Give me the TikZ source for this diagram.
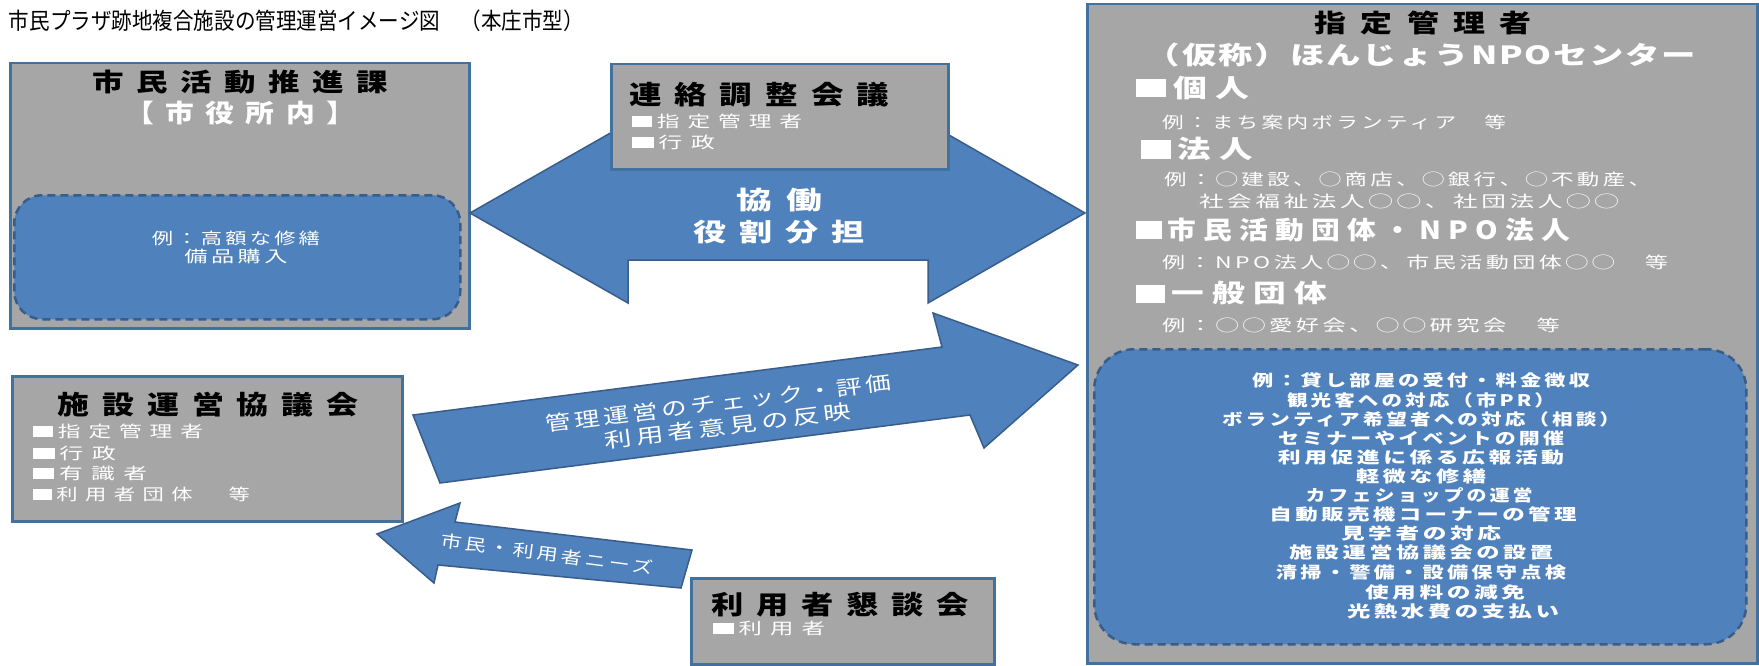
\documentclass[tikz,border=0pt]{standalone}
\usepackage{fontspec}
\usepackage{graphicx}
\definecolor{boxgray}{HTML}{A6A6A6}
\definecolor{boxblue}{HTML}{41719C}
\definecolor{arrowblue}{HTML}{4F81BD}
\definecolor{darkblue}{HTML}{385D8A}
\newcommand\T[4]{\resizebox{#1pt}{\height}{\fontspec{Noto Sans CJK JP}[LetterSpace=#3]\fontsize{#2}{#2}\selectfont#4}}
\newcommand\TB[4]{\resizebox{#1pt}{\height}{\fontspec{Noto Sans CJK JP}[LetterSpace=#3]\fontsize{#2}{#2}\selectfont\bfseries#4}}
\newcommand\sqr{\rule{0.9em}{0.72em}\kern0.2em}
\begin{document}
\begin{tikzpicture}[x=1pt,y=-1pt,
  txt/.style={inner sep=0pt,outer sep=0pt},
  wtxt/.style={txt,text=white},
  graybox/.style={draw=boxblue,line width=2.5pt,fill=boxgray,inner sep=0pt,anchor=north west},
  dashbox/.style={draw=darkblue,line width=2.5pt,dash pattern=on 8pt off 5pt,fill=arrowblue,inner sep=0pt,anchor=north west},
  blockarrow/.style={fill=arrowblue,draw=darkblue,line width=1.5pt,line join=miter}]
\useasboundingbox (0,0) rectangle (1759,666);
\fill[white] (0,0) rectangle (1759,666);

% title
\node[txt,anchor=west] (title) at (9,21) {\T{575}{23}{0}{市民プラザ跡地複合施設の管理運営イメージ図　（本庄市型）}};

% box 1
\node[graybox,minimum width=459pt,minimum height=265pt] (b1) at (9,62) {};
\node[dashbox,rounded corners=28pt,minimum width=446pt,minimum height=124pt] (b1in) at (13,194) {};
\node[txt] (b1t) at (240,82) {\TB{296}{25}{40}{市民活動推進課}};
\node[wtxt] (b1s) at (240,113) {\TB{230}{25}{40}{【市役所内】}};
\node[wtxt] (b1e1) at (236,238) {\T{168}{16}{15}{例：高額な修繕}};
\node[wtxt] (b1e2) at (236,256) {\T{103}{16}{15}{備品購入}};

% double arrow
\draw[blockarrow] (470,213) -- (628,123) -- (628,166) -- (928,166) -- (928,123) -- (1085,213)
  -- (928,303) -- (928,260) -- (628,260) -- (628,303) -- cycle;
\node[wtxt] (da1) at (779,200) {\TB{86}{25}{40}{協働}};
\node[wtxt] (da2) at (779,232) {\TB{172}{25}{40}{役割分担}};

% liaison box
\node[graybox,minimum width=337pt,minimum height=105pt] (b2) at (610,63) {};
\node[txt,anchor=west] (b2t) at (629,95) {\TB{260}{26}{40}{連絡調整会議}};
\node[wtxt,anchor=west] (b2a) at (632,121) {\T{170}{16}{35}{\sqr 指定管理者}};
\node[wtxt,anchor=west] (b2b) at (632,142) {\T{83}{16}{35}{\sqr 行政}};

% facility council box
\node[graybox,minimum width=390pt,minimum height=145pt] (b3) at (11,375) {};
\node[txt] (b3t) at (208,405) {\TB{300}{26}{40}{施設運営協議会}};
\node[wtxt,anchor=west] (b3a) at (33,431) {\T{170}{16}{35}{\sqr 指定管理者}};
\node[wtxt,anchor=west] (b3b) at (33,453) {\T{83}{16}{35}{\sqr 行政}};
\node[wtxt,anchor=west] (b3c) at (33,473) {\T{114}{16}{35}{\sqr 有識者}};
\node[wtxt,anchor=west] (b3d) at (33,494) {\T{217}{16}{35}{\sqr 利用者団体　等}};

% upward diagonal arrow
\draw[blockarrow] (413,415) -- (942,347) -- (933,313) -- (1078,365) -- (984,448) -- (970,415) -- (440,483) -- cycle;
\node[wtxt,rotate=7] (ua1) at (718,403) {\T{348}{20}{15}{管理運営のチェック・評価}};
\node[wtxt,rotate=7] (ua2) at (728,426) {\T{248}{20}{15}{利用者意見の反映}};

% needs arrow
\draw[blockarrow] (377,534) -- (460,503) -- (455,522) -- (692,550) -- (681,588) -- (438,565) -- (434,583) -- cycle;
\node[wtxt,rotate=-7.5] (na) at (547,554) {\T{214}{16.5}{15}{市民・利用者ニーズ}};

% users meeting box
\node[graybox,minimum width=303pt,minimum height=86pt] (b4) at (690,577) {};
\node[txt,anchor=west] (b4t) at (711,605) {\TB{258}{26}{40}{利用者懇談会}};
\node[wtxt,anchor=west] (b4a) at (713,628) {\T{112}{16}{35}{\sqr 利用者}};

% designated manager box
\node[graybox,minimum width=670pt,minimum height=659pt] (b5) at (1086,3) {};
\node[dashbox,rounded corners=40pt,minimum width=652pt,minimum height=295pt] (b5in) at (1093,348) {};
\node[txt] (b5t) at (1423,23) {\TB{217}{25}{45}{指定管理者}};
\node[wtxt] (b5s) at (1421,55) {\TB{550}{25}{5}{（仮称）ほんじょうNPOセンター}};
\node[wtxt,anchor=west] (h1) at (1136,88) {\TB{113}{25}{25}{\sqr 個人}};
\node[wtxt,anchor=west] (e1) at (1162,122) {\T{344}{16}{15}{例：まち案内ボランティア　等}};
\node[wtxt,anchor=west] (h2) at (1141,149) {\TB{112}{25}{25}{\sqr 法人}};
\node[wtxt,anchor=west] (e2) at (1164,179) {\T{487}{16}{15}{例：◯建設、◯商店、◯銀行、◯不動産、}};
\node[wtxt,anchor=west] (e2b) at (1199,201) {\T{420}{16}{15}{社会福祉法人◯◯、社団法人◯◯}};
\node[wtxt,anchor=west] (h3) at (1136,230) {\TB{434}{25}{25}{\sqr 市民活動団体・NPO法人}};
\node[wtxt,anchor=west] (e3) at (1162,262) {\T{506}{16}{15}{例：NPO法人◯◯、市民活動団体◯◯　等}};
\node[wtxt,anchor=west] (h4) at (1136,293) {\TB{191}{25}{25}{\sqr 一般団体}};
\node[wtxt,anchor=west] (e4) at (1162,325) {\T{398}{16}{15}{例：◯◯愛好会、◯◯研究会　等}};

\node[wtxt] (l1) at (1421,380) {\TB{338}{16}{15}{例：貸し部屋の受付・料金徴収}};
\node[wtxt] (l2) at (1421,400) {\TB{268}{16}{15}{観光客への対応（市PR）}};
\node[wtxt] (l3) at (1421,419) {\TB{398}{16}{15}{ボランティア希望者への対応（相談）}};
\node[wtxt] (l4) at (1421,438) {\TB{286}{16}{15}{セミナーやイベントの開催}};
\node[wtxt] (l5) at (1421,457) {\TB{286}{16}{15}{利用促進に係る広報活動}};
\node[wtxt] (l6) at (1421,476) {\TB{130}{16}{15}{軽微な修繕}};
\node[wtxt] (l7) at (1419,495) {\TB{227}{16}{15}{カフェショップの運営}};
\node[wtxt] (l8) at (1423,514) {\TB{307}{16}{15}{自動販売機コーナーの管理}};
\node[wtxt] (l9) at (1421,533) {\TB{160}{16}{15}{見学者の対応}};
\node[wtxt] (l10) at (1421,552) {\TB{264}{16}{15}{施設運営協議会の設置}};
\node[wtxt] (l11) at (1421,572) {\TB{290}{16}{15}{清掃・警備・設備保守点検}};
\node[wtxt] (l12) at (1445,592) {\TB{160}{16}{15}{使用料の減免}};
\node[wtxt] (l13) at (1453,611) {\TB{212}{16}{15}{光熱水費の支払い}};
\end{tikzpicture}
\end{document}
